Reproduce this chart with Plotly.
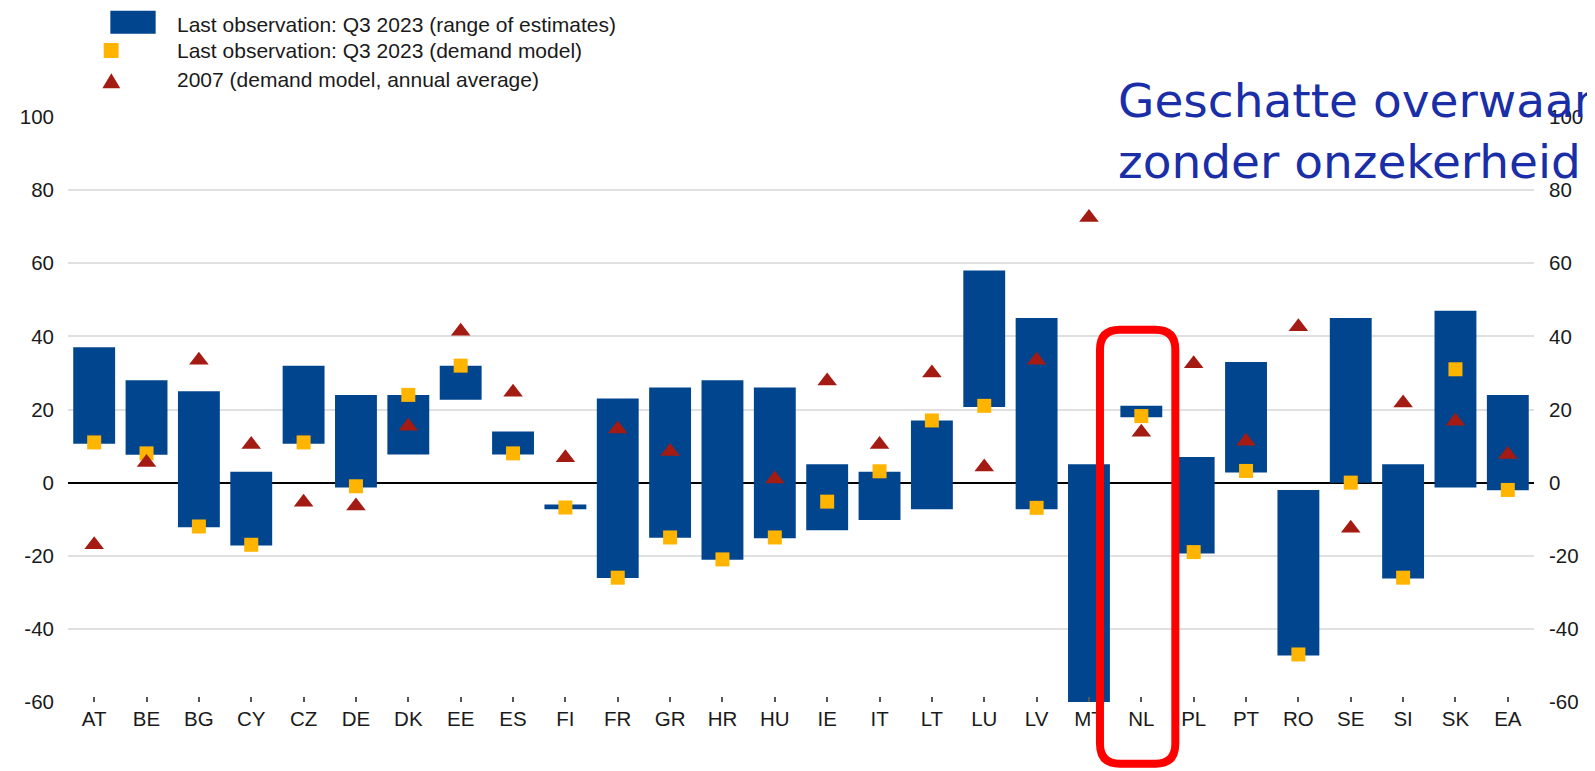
import plotly.graph_objects as go

# ---------------- data ----------------
countries = ["AT", "BE", "BG", "CY", "CZ", "DE", "DK", "EE", "ES", "FI", "FR", "GR", "HR", "HU",
             "IE", "IT", "LT", "LU", "LV", "MT", "NL", "PL", "PT", "RO", "SE", "SI", "SK", "EA"]
range_high = [37, 28, 25, 3, 32, 24, 24, 32, 14, -6, 23, 26, 28, 26,
              5, 3, 17, 58, 45, 5, 21, 7, 33, -2, 45, 5, 47, 24]
range_low = [10.6, 7.6, -12.2, -17.2, 10.6, -1.3, 7.7, 22.7, 7.7, -7.3, -26.1, -15.1, -21.1, -15.2,
             -13, -10.2, -7.3, 20.7, -7.3, -60, 17.9, -19.4, 2.8, -47.3, 0, -26.2, -1.3, -2.1]
demand_q3_2023 = [11, 8, -12, -17, 11, -1, 24, 32, 8, -6.8, -26, -15, -21, -15,
                  -5.2, 3.1, 17, 21, -6.9, None, 18.2, -19, 3.2, -47, 0, -26, 31, -2]
demand_2007 = [-17, 5.5, 33.5, 10.4, -5.4, -6.4, 15.4, 41.4, 24.7, 6.8, 14.7, 8.5, None, 1,
               27.8, 10.4, 30, 4.3, 33.5, 72.5, 13.8, 32.5, 11.3, 42.6, -12.5, 21.8, 16.8, 7.7]
legend_labels = ["Last observation: Q3 2023 (range of estimates)",
                 "Last observation: Q3 2023 (demand model)",
                 "2007 (demand model, annual average)"]
y_ticks = [100, 80, 60, 40, 20, 0, -20, -40, -60]
y_tick_text = [str(v) for v in y_ticks]
title_lines = ["Geschatte overwaarde", "zonder onzekerheid"]

# ---------------- styling ----------------
BLUE = "#02458F"
ORANGE = "#FFB400"
RED = "#A31B12"
TXT = "#1a1a1a"
FONT = "Liberation Sans, Arial, sans-serif"

# the page has an 8px body margin; the figure is sized to fill the rest of the window
OFF = 8
W, H = 1595 - OFF, 771 - OFF
PLOT_L, PLOT_R, PLOT_T, PLOT_B = 63.3, 1541.7, 117.3, 702.3   # page pixels
ML, MR = PLOT_L - OFF, W - (PLOT_R - OFF)
MT, MB = PLOT_T - OFF, H - (PLOT_B - OFF)
PW, PH = W - ML - MR, H - MT - MB


def px(x):
    return (x - OFF - ML) / PW


def py(y):
    return 1 - (y - OFF - MT) / PH


idx = list(range(len(countries)))
heights = [h - l for h, l in zip(range_high, range_low)]

fig = go.Figure()
fig.add_trace(go.Bar(x=idx, y=heights, base=range_low, width=0.8,
                     marker=dict(color=BLUE, line=dict(width=0)),
                     name=legend_labels[0], showlegend=False))
fig.add_trace(go.Scatter(x=idx, y=demand_q3_2023, mode="markers",
                         marker=dict(symbol="square", size=14, color=ORANGE, line=dict(width=0)),
                         name=legend_labels[1], showlegend=False))
fig.add_trace(go.Scatter(x=idx, y=demand_2007, mode="markers",
                         marker=dict(symbol="triangle-up", size=17, color=RED, line=dict(width=0)),
                         name=legend_labels[2], showlegend=False))
# invisible copy on the right-hand axis so that it is drawn
fig.add_trace(go.Scatter(x=idx, y=demand_q3_2023, mode="markers", yaxis="y2",
                         marker=dict(opacity=0), showlegend=False, hoverinfo="skip"))

axis_font = dict(family=FONT, size=20.5, color=TXT)
fig.update_layout(
    width=W, height=H,
    margin=dict(l=ML, r=MR, t=MT, b=MB, pad=0),
    paper_bgcolor="white", plot_bgcolor="white",
    hovermode=False,
    xaxis=dict(range=[-0.5, len(countries) - 0.5], tickmode="array", tickvals=idx,
               ticktext=countries, ticks="inside", ticklen=5, tickwidth=1.5, tickcolor="#555",
               showgrid=False, zeroline=False, showline=False, tickfont=axis_font,
               ticklabelstandoff=2),
    yaxis=dict(range=[-60, 100], tickmode="array", tickvals=y_ticks, ticktext=y_tick_text,
               showgrid=True, gridcolor="#e0e0e0", gridwidth=2,
               zeroline=True, zerolinecolor="black", zerolinewidth=2,
               showline=False, ticks="", tickfont=axis_font, ticklabelstandoff=13),
    yaxis2=dict(range=[-60, 100], tickmode="array", tickvals=y_ticks, ticktext=y_tick_text,
                overlaying="y", side="right", showgrid=False, zeroline=False, showline=False,
                ticks="", tickfont=axis_font, ticklabelstandoff=14),
)

shapes = []
annotations = []
# legend: blue rectangle
shapes.append(dict(type="rect", xref="paper", yref="paper", x0=px(106), x1=px(151.7),
                   y0=py(34), y1=py(11), fillcolor=BLUE, line=dict(width=0)))
# legend: orange square
cx, cy, s = 106.8, 50.8, 15
shapes.append(dict(type="rect", xref="paper", yref="paper", x0=px(cx - s / 2), x1=px(cx + s / 2),
                   y0=py(cy + s / 2), y1=py(cy - s / 2), fillcolor=ORANGE, line=dict(width=0)))
# legend: red triangle
cx, cy, tw, th = 107, 81, 18, 15
tri = (f"M {px(cx - tw / 2)},{py(cy + th / 2)} L {px(cx + tw / 2)},{py(cy + th / 2)} "
       f"L {px(cx)},{py(cy - th / 2)} Z")
shapes.append(dict(type="path", xref="paper", yref="paper", path=tri, fillcolor=RED,
                   line=dict(width=0)))
for label, ycen in zip(legend_labels, [24.5, 51, 80]):
    annotations.append(dict(text=label, xref="paper", yref="paper", x=px(171), y=py(ycen),
                            xanchor="left", yanchor="middle", showarrow=False,
                            font=dict(family=FONT, size=21, color=TXT)))

# red rounded highlight rectangle around NL
x0, x1, y0, y1, r = 1104, 1180, 330, 764, 20
P = lambda x, y: f"{px(x)},{py(y)}"
rr = (f"M {P(x0 + r, y0)} L {P(x1 - r, y0)} Q {P(x1, y0)} {P(x1, y0 + r)} "
      f"L {P(x1, y1 - r)} Q {P(x1, y1)} {P(x1 - r, y1)} L {P(x0 + r, y1)} "
      f"Q {P(x0, y1)} {P(x0, y1 - r)} L {P(x0, y0 + r)} Q {P(x0, y0)} {P(x0 + r, y0)} Z")
shapes.append(dict(type="path", xref="paper", yref="paper", path=rr,
                   line=dict(color="#FF0000", width=8), fillcolor="rgba(0,0,0,0)", layer="above"))

# overlaid title text
annotations.append(dict(text="<br>".join(title_lines), xref="paper", yref="paper",
                        x=px(1120), y=py(131), xanchor="left", yanchor="middle", align="left",
                        showarrow=False,
                        font=dict(family="DejaVu Sans, Verdana, sans-serif", size=47,
                                  color="#1A2EA8")))

fig.update_layout(shapes=shapes, annotations=annotations)
fig.write_html("out.html")
